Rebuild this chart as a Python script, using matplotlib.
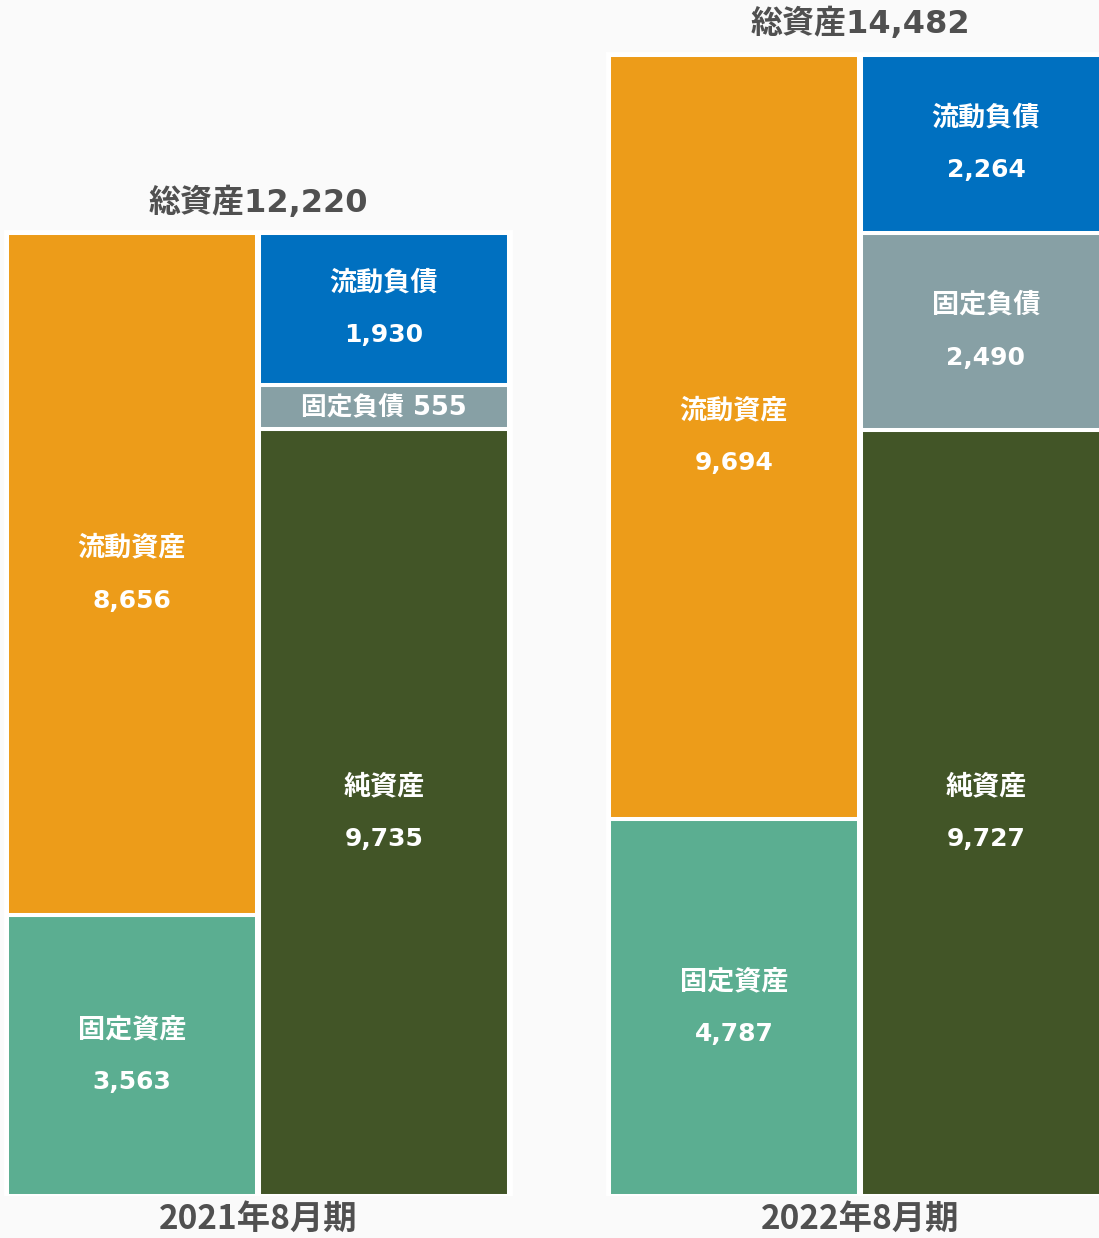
import matplotlib
matplotlib.use("Agg")
import matplotlib.pyplot as plt

plt.rcParams['font.family'] = ['Noto Sans CJK JP', 'DejaVu Sans']
MIX = ['DejaVu Sans', 'Noto Sans CJK JP']

periods = ['2021年8月期', '2022年8月期']
totals = [12220, 14482]

# assets side (bottom -> top)
asset_names = ['固定資産', '流動資産']
asset_vals = [[3563, 8656], [4787, 9694]]

# liabilities + net assets side (bottom -> top)
liab_names = ['純資産', '固定負債', '流動負債']
liab_vals = [[9735, 555, 1930], [9727, 2490, 2264]]

asset_colors = ['#5BAE91', '#ED9C19']
liab_colors = ['#425527', '#87A0A5', '#0070C0']

BG = '#FAFAFA'
TXT = '#505050'

fig = plt.figure(figsize=(10.99, 12.38), dpi=100, facecolor=BG)
ax = fig.add_axes([0, 42 / 1238, 1, 1 - 42 / 1238])
ax.set_facecolor(BG)
ax.set_xlim(0, 1099)
ax.set_ylim(0, 1196 / 0.0788)
ax.axis('off')

width = 250
group_left = [132, 734]
step = 252


def put_label(x, bottom, val, name, single=False):
    yc = bottom + val / 2
    if single:
        ax.text(x, yc, f'{name} {val:,}', ha='center', va='center',
                color='white', fontsize=18.5, fontweight='bold', family=MIX)
        return
    ax.annotate(name, (x, yc), xytext=(0, 19), textcoords='offset points',
                ha='center', va='center', color='white', fontsize=19.5,
                fontweight='bold')
    ax.annotate(f'{val:,}', (x, yc), xytext=(0, -19), textcoords='offset points',
                ha='center', va='center', color='white', fontsize=18,
                fontweight='bold', family=MIX)


for i, p in enumerate(periods):
    xa = group_left[i]
    xl = xa + step
    # white backing
    ax.bar((xa + xl) / 2, totals[i], width=width + step, color='white',
           edgecolor='white', linewidth=5, zorder=1)
    bottom = 0
    for name, v, c in zip(asset_names, asset_vals[i], asset_colors):
        ax.bar(xa, v, width=width, bottom=bottom, color=c, edgecolor='white',
               linewidth=2.9, zorder=2)
        put_label(xa, bottom, v, name)
        bottom += v
    bottom = 0
    for name, v, c in zip(liab_names, liab_vals[i], liab_colors):
        ax.bar(xl, v, width=width, bottom=bottom, color=c, edgecolor='white',
               linewidth=2.9, zorder=2)
        put_label(xl, bottom, v, name, single=(v < 1000))
        bottom += v
    cx = (xa + xl) / 2
    ax.annotate(f'総資産{totals[i]:,}', (cx, totals[i]), xytext=(0, 22),
                textcoords='offset points', ha='center', va='center',
                color=TXT, fontsize=23, fontweight='bold', family=MIX)
    ax.annotate(p, (cx, 0), xytext=(0, -17), textcoords='offset points',
                ha='center', va='center', color=TXT, fontsize=24,
                fontweight='bold', annotation_clip=False)

fig.savefig('out.png', dpi=100, facecolor=BG)
